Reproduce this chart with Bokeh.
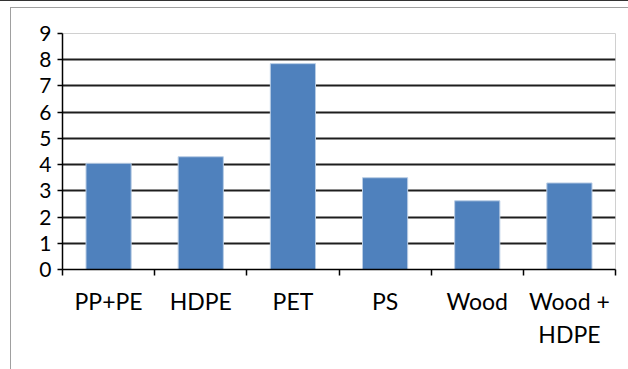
from bokeh.plotting import figure
from bokeh.models import FixedTicker, Range1d, ColumnDataSource
from bokeh.embed import file_html
from bokeh.resources import INLINE

categories = ["PP+PE", "HDPE", "PET", "PS", "Wood", "Wood +\nHDPE"]
values = [4.05, 4.3, 7.85, 3.5, 2.62, 3.3]
y_ticks = [0, 1, 2, 3, 4, 5, 6, 7, 8, 9]

n = len(categories)
centers = [i + 0.5 for i in range(n)]
src = ColumnDataSource(dict(x=centers, top=values))

p = figure(width=628, height=369, output_backend="svg", toolbar_location=None,
           x_range=Range1d(0, n), y_range=Range1d(0, 9),
           min_border_left=62, min_border_right=13, min_border_top=33, min_border_bottom=100)
p.border_fill_color = None
p.styles = {"background": "linear-gradient(#333,#333) 0 0/100% 1px no-repeat, "
                          "linear-gradient(#a0a0a0,#a0a0a0) 10px 7px/100% 1px no-repeat, "
                          "linear-gradient(#a0a0a0,#a0a0a0) 10px 7px/1px 100% no-repeat, white"}
p.background_fill_color = "white"
p.outline_line_color = "#d0d0d0"

p.vbar(x="x", top="top", width=0.49, bottom=0, source=src,
       fill_color="#4F81BD", line_color="#B9CDE5", line_width=1)

font = "Lato"
xa = p.xaxis[0]
xa.ticker = FixedTicker(ticks=centers, minor_ticks=list(range(n + 1)))
xa.major_label_overrides = {c: lab for c, lab in zip(centers, categories)}
xa.major_tick_line_color = None
xa.major_tick_in = 0
xa.major_tick_out = 0
xa.minor_tick_in = 0
xa.minor_tick_out = 6
xa.minor_tick_line_color = "black"
xa.minor_tick_line_width = 1.5
xa.axis_line_color = "black"
xa.axis_line_width = 1.5
xa.major_label_standoff = 11
xa.major_label_text_font = font
xa.major_label_text_font_size = "23px"
xa.major_label_text_color = "black"

ya = p.yaxis[0]
ya.ticker = FixedTicker(ticks=y_ticks, minor_ticks=[])
ya.major_tick_in = 0
ya.major_tick_out = 5
ya.major_tick_line_color = "black"
ya.major_tick_line_width = 1.5
ya.axis_line_color = "black"
ya.axis_line_width = 1.5
ya.major_label_standoff = 6
ya.major_label_text_font = font
ya.major_label_text_font_size = "21px"
ya.major_label_text_color = "black"

p.xgrid.grid_line_color = None
p.ygrid.ticker = FixedTicker(ticks=y_ticks)
p.ygrid.grid_line_color = "#1e1e1e"
p.ygrid.grid_line_width = 2

open("out.html", "w").write(file_html(p, INLINE))
